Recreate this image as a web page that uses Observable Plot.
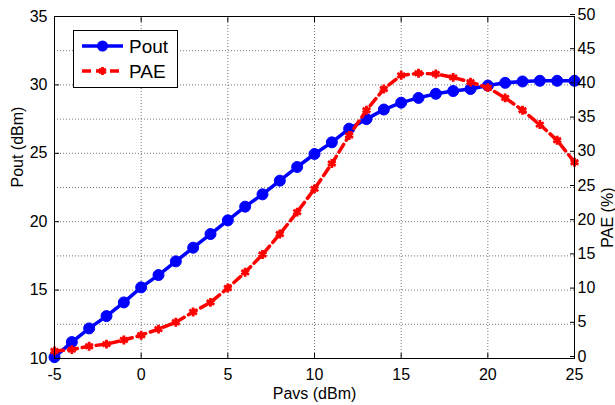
<!DOCTYPE html>
<html><head><meta charset="utf-8">
<script src="https://cdn.jsdelivr.net/npm/d3@7"></script>
<script src="https://cdn.jsdelivr.net/npm/@observablehq/plot@0.6"></script>
<style>
body{margin:0;background:#fff;}
#wrap{position:relative;width:615px;height:405px;overflow:hidden;font-family:"Liberation Sans",Arial,sans-serif;}
#chart{position:absolute;left:0;top:0;}
#legend{position:absolute;left:73px;top:30px;width:103px;height:56px;border:1px solid #000;background:#fff;}
#legend svg{display:block;}
</style></head><body>
<div id="wrap"><div id="chart"></div><div id="legend"></div></div>
<script>
// ---- data ----
const pavs = [-5,-4,-3,-2,-1,0,1,2,3,4,5,6,7,8,9,10,11,12,13,14,15,16,17,18,19,20,21,22,23,24,25];
const pout = [10.1,11.2,12.2,13.1,14.1,15.2,16.1,17.1,18.1,19.1,20.1,21.1,22.0,23.0,24.0,24.95,25.8,26.8,27.5,28.2,28.7,29.05,29.35,29.55,29.7,29.95,30.15,30.25,30.3,30.3,30.3];
const pae  = [1.1,1.3,1.8,2.1,2.7,3.4,4.3,5.3,6.8,8.2,10.3,12.6,15.2,18.2,21.4,24.8,28.5,32.6,36.3,39.4,41.4,41.7,41.6,41.1,40.4,39.6,38.1,36.3,34.2,31.9,28.7];
const xTicks = [-5,0,5,10,15,20,25];
const poutTicks = [10,15,20,25,30,35];
const paeTicks = [0,5,10,15,20,25,30,35,40,45,50];
const seriesNames = ["Pout","PAE"];
const axisLabels = {x:"Pavs (dBm)", left:"Pout (dBm)", right:"PAE (%)"};

// PAE (0..50 %) shares the plot with Pout (10..35 dBm)
const toLeft = v => 10 + v / 2;
const fromLeft = v => String(Math.round((v - 10) * 2));
const plain = d => String(d);

const rows = pavs.map((x, i) => ({x, pout: pout[i], pae: toLeft(pae[i])}));
const rightTickPos = paeTicks.map(toLeft);

const gridStyle = {stroke:"#000", strokeOpacity:0.55, strokeDasharray:"1,2"};
const FS = 16;

const chart = Plot.plot({
  width:615, height:405,
  marginLeft:54, marginRight:41, marginTop:16, marginBottom:47,
  style:{fontFamily:"Liberation Sans, Arial, sans-serif", fontSize:FS + "px", background:"white", color:"black"},
  x:{domain:[-5,25]},
  y:{domain:[10,35]},
  marks:[
    Plot.gridX(xTicks, gridStyle),
    Plot.gridY(rightTickPos, gridStyle),
    Plot.line(rows, {x:"x", y:"pout", stroke:"#0000ff", strokeWidth:3.5}),
    Plot.dot(rows, {x:"x", y:"pout", r:5.5, fill:"#0000ff", stroke:"#0000ff", strokeWidth:1}),
    Plot.line(rows, {x:"x", y:"pae", stroke:"#ff0000", strokeWidth:3.5, strokeDasharray:"9,5"}),
    Plot.dot(rows, {x:"x", y:"pae", symbol:"asterisk", r:4.2, stroke:"#ff0000", strokeWidth:2.8}),
    Plot.frame({stroke:"#000"}),
    Plot.axisX(xTicks, {anchor:"bottom", tickSize:-5, tickPadding:15, tickFormat:plain, label:null, fontSize:FS}),
    Plot.axisX(xTicks, {anchor:"top", tickSize:-5, tickFormat:() => "", label:null}),
    Plot.axisY(poutTicks, {anchor:"left", tickSize:-5, tickPadding:12, tickFormat:plain, label:null, fontSize:FS}),
    Plot.axisY(rightTickPos, {anchor:"right", tickSize:-5, tickPadding:8, tickFormat:fromLeft, label:null, fontSize:FS, dy:-2}),
    Plot.text([axisLabels.left], {frameAnchor:"left", text:d => d, rotate:-90, dx:-32, lineAnchor:"bottom", fontSize:FS}),
    Plot.text([axisLabels.right], {frameAnchor:"right", text:d => d, rotate:-90, dx:38, lineAnchor:"bottom", fontSize:FS}),
    Plot.text([axisLabels.x], {frameAnchor:"bottom", text:d => d, dy:40, lineAnchor:"bottom", fontSize:FS})
  ]
});
document.getElementById("chart").appendChild(chart);

// legend
const leg = document.getElementById("legend");
leg.innerHTML = `<svg width="103" height="56" font-family="Liberation Sans, Arial, sans-serif">
  <line x1="8" x2="49" y1="15" y2="15" stroke="#0000ff" stroke-width="3.5"/>
  <circle cx="28.5" cy="15" r="5.5" fill="#0000ff"/>
  <text x="55" y="15" dy="0.36em" font-size="19">${seriesNames[0]}</text>
  <line x1="8" x2="49" y1="40" y2="40" stroke="#ff0000" stroke-width="3.5" stroke-dasharray="9,5"/>
  <path transform="translate(28.5,40)" d="M0,-4V4M-3.5,-2L3.5,2M-3.5,2L3.5,-2" stroke="#ff0000" stroke-width="2.8"/>
  <text x="55" y="40" dy="0.36em" font-size="19">${seriesNames[1]}</text>
</svg>`;
</script>
</body></html>
